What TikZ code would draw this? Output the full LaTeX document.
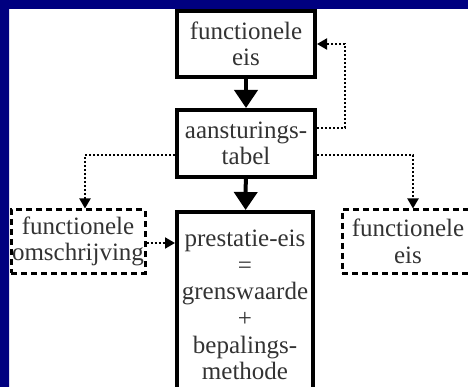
\documentclass[tikz,border=0pt]{standalone}
\usepackage{fontspec}
\setmainfont{Liberation Serif}
\usetikzlibrary{arrows.meta}
\definecolor{navy}{HTML}{000080}
\begin{document}
\begin{tikzpicture}[x=1pt,y=-1pt,
  every node/.style={font=\fontsize{25}{26.6}\selectfont, text=black!80, align=center, inner sep=0pt},
  solidbox/.style={draw, line width=4pt, minimum width=138pt},
  dashbox/.style={draw, line width=3pt, dash pattern=on 6pt off 4pt, minimum width=134pt, minimum height=63pt},
  flow/.style={line width=4pt, -{Triangle[length=18pt,width=23pt]}},
  link/.style={line width=2pt, dash pattern=on 2pt off 2pt, -{Triangle[length=10pt,width=11pt]}}]
\useasboundingbox (0,0) rectangle (468,387);
\clip (0,0) rectangle (468,387);
\node[solidbox, minimum height=66pt] (eis) at (246,44) {functionele\\eis};
\node[solidbox, minimum height=67pt] (tabel) at (246,143.5) {aansturings-\\tabel};
\node[solidbox, minimum width=136pt, minimum height=186pt, anchor=north] (prestatie) at (245,210)
  {prestatie-eis\\=\\grenswaarde\\+\\bepalings-\\methode};
\node[dashbox] (omschr) at (78,241.5) {functionele\\omschrijving};
\node[dashbox, minimum width=132pt] (eistwee) at (408,241.5) {functionele\\eis};
% hoofdlijn
\draw[flow] (eis) -- (tabel);
\draw[flow] (tabel) -- (prestatie);
% gestippelde verbindingen
\draw[link] ([yshift=15.5pt]tabel.east) -- ++(28,0) |- (eis.east);
\draw[link] ([yshift=-11.5pt]tabel.west) -| ([xshift=7pt]omschr.north);
\draw[link] ([yshift=-11.5pt]tabel.east) -| ([xshift=5pt]eistwee.north);
\draw[link] ([yshift=-1.5pt]omschr.east) -- ([yshift=-1.5pt]omschr.east -| prestatie.west);
% rand
\fill[navy] (0,0) rectangle (468,9) (0,0) rectangle (9,387);
\end{tikzpicture}
\end{document}
